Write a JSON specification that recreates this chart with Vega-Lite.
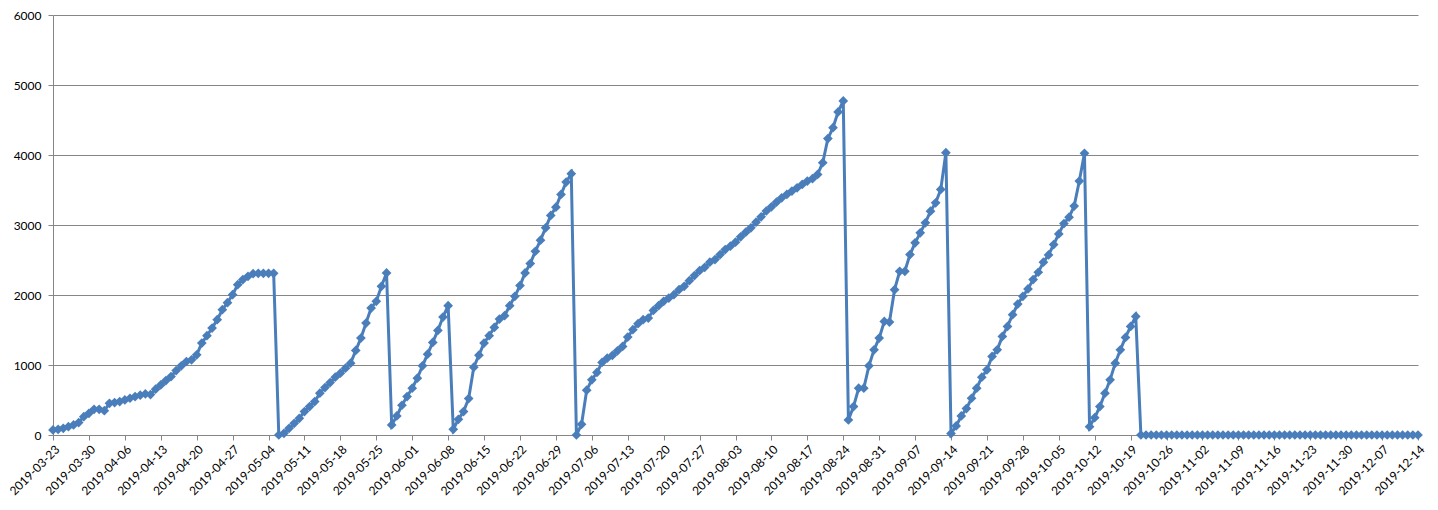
{
  "$schema": "https://vega.github.io/schema/vega-lite/v6.json",
  "autosize": "none",
  "width": 1365,
  "height": 420,
  "padding": {"left": 53, "top": 15, "right": 20, "bottom": 75},
  "background": "white",
  "config": {
    "view": {"stroke": null},
    "axis": {"labelFont": "Lato", "labelFontSize": 12, "labelColor": "#000000", "domainColor": "#868686", "tickColor": "#868686", "gridColor": "#868686", "titleFont": "Lato"}
  },
  "data": {"values": [
    {"d":"2019-03-23","v":72},{"d":"2019-03-24","v":81},{"d":"2019-03-25","v":95},{"d":"2019-03-26","v":119},{"d":"2019-03-27","v":143},{"d":"2019-03-28","v":177},{"d":"2019-03-29","v":262},{"d":"2019-03-30","v":310},{"d":"2019-03-31","v":367},
    {"d":"2019-04-01","v":367},{"d":"2019-04-02","v":348},{"d":"2019-04-03","v":453},{"d":"2019-04-04","v":463},{"d":"2019-04-05","v":477},{"d":"2019-04-06","v":501},{"d":"2019-04-07","v":525},{"d":"2019-04-08","v":549},{"d":"2019-04-09","v":568},{"d":"2019-04-10","v":587},{"d":"2019-04-11","v":578},{"d":"2019-04-12","v":654},{"d":"2019-04-13","v":716},{"d":"2019-04-14","v":778},{"d":"2019-04-15","v":835},{"d":"2019-04-16","v":921},{"d":"2019-04-17","v":988},{"d":"2019-04-18","v":1050},{"d":"2019-04-19","v":1074},{"d":"2019-04-20","v":1146},{"d":"2019-04-21","v":1313},{"d":"2019-04-22","v":1418},{"d":"2019-04-23","v":1527},{"d":"2019-04-24","v":1647},{"d":"2019-04-25","v":1790},{"d":"2019-04-26","v":1890},{"d":"2019-04-27","v":2005},{"d":"2019-04-28","v":2148},{"d":"2019-04-29","v":2220},{"d":"2019-04-30","v":2267},
    {"d":"2019-05-01","v":2305},{"d":"2019-05-02","v":2310},{"d":"2019-05-03","v":2310},{"d":"2019-05-04","v":2310},{"d":"2019-05-05","v":2310},{"d":"2019-05-06","v":0},{"d":"2019-05-07","v":24},{"d":"2019-05-08","v":95},{"d":"2019-05-09","v":167},{"d":"2019-05-10","v":239},{"d":"2019-05-11","v":334},{"d":"2019-05-12","v":406},{"d":"2019-05-13","v":477},{"d":"2019-05-14","v":597},{"d":"2019-05-15","v":678},{"d":"2019-05-16","v":749},{"d":"2019-05-17","v":826},{"d":"2019-05-18","v":883},{"d":"2019-05-19","v":955},{"d":"2019-05-20","v":1026},{"d":"2019-05-21","v":1208},{"d":"2019-05-22","v":1384},{"d":"2019-05-23","v":1599},{"d":"2019-05-24","v":1814},{"d":"2019-05-25","v":1909},{"d":"2019-05-26","v":2124},{"d":"2019-05-27","v":2315},{"d":"2019-05-28","v":143},{"d":"2019-05-29","v":272},{"d":"2019-05-30","v":425},{"d":"2019-05-31","v":549},
    {"d":"2019-06-01","v":668},{"d":"2019-06-02","v":811},{"d":"2019-06-03","v":988},{"d":"2019-06-04","v":1155},{"d":"2019-06-05","v":1322},{"d":"2019-06-06","v":1494},{"d":"2019-06-07","v":1685},{"d":"2019-06-08","v":1847},{"d":"2019-06-09","v":81},{"d":"2019-06-10","v":224},{"d":"2019-06-11","v":334},{"d":"2019-06-12","v":520},{"d":"2019-06-13","v":969},{"d":"2019-06-14","v":1141},{"d":"2019-06-15","v":1313},{"d":"2019-06-16","v":1418},{"d":"2019-06-17","v":1537},{"d":"2019-06-18","v":1656},{"d":"2019-06-19","v":1704},{"d":"2019-06-20","v":1847},{"d":"2019-06-21","v":1981},{"d":"2019-06-22","v":2134},{"d":"2019-06-23","v":2315},{"d":"2019-06-24","v":2449},{"d":"2019-06-25","v":2625},{"d":"2019-06-26","v":2783},{"d":"2019-06-27","v":2959},{"d":"2019-06-28","v":3136},{"d":"2019-06-29","v":3255},{"d":"2019-06-30","v":3437},
    {"d":"2019-07-01","v":3613},{"d":"2019-07-02","v":3733},{"d":"2019-07-03","v":0},{"d":"2019-07-04","v":153},{"d":"2019-07-05","v":640},{"d":"2019-07-06","v":788},{"d":"2019-07-07","v":893},{"d":"2019-07-08","v":1036},{"d":"2019-07-09","v":1098},{"d":"2019-07-10","v":1136},{"d":"2019-07-11","v":1203},{"d":"2019-07-12","v":1265},{"d":"2019-07-13","v":1399},{"d":"2019-07-14","v":1504},{"d":"2019-07-15","v":1590},{"d":"2019-07-16","v":1647},{"d":"2019-07-17","v":1671},{"d":"2019-07-18","v":1780},{"d":"2019-07-19","v":1847},{"d":"2019-07-20","v":1909},{"d":"2019-07-21","v":1957},{"d":"2019-07-22","v":2005},{"d":"2019-07-23","v":2076},{"d":"2019-07-24","v":2124},{"d":"2019-07-25","v":2205},{"d":"2019-07-26","v":2277},{"d":"2019-07-27","v":2348},{"d":"2019-07-28","v":2396},{"d":"2019-07-29","v":2468},{"d":"2019-07-30","v":2506},{"d":"2019-07-31","v":2578},
    {"d":"2019-08-01","v":2649},{"d":"2019-08-02","v":2697},{"d":"2019-08-03","v":2754},{"d":"2019-08-04","v":2831},{"d":"2019-08-05","v":2897},{"d":"2019-08-06","v":2959},{"d":"2019-08-07","v":3041},{"d":"2019-08-08","v":3117},{"d":"2019-08-09","v":3200},{"d":"2019-08-10","v":3260},{"d":"2019-08-11","v":3327},{"d":"2019-08-12","v":3389},{"d":"2019-08-13","v":3437},{"d":"2019-08-14","v":3484},{"d":"2019-08-15","v":3532},{"d":"2019-08-16","v":3580},{"d":"2019-08-17","v":3628},{"d":"2019-08-18","v":3661},{"d":"2019-08-19","v":3723},{"d":"2019-08-20","v":3890},{"d":"2019-08-21","v":4234},{"d":"2019-08-22","v":4391},{"d":"2019-08-23","v":4616},{"d":"2019-08-24","v":4773},{"d":"2019-08-25","v":215},{"d":"2019-08-26","v":406},{"d":"2019-08-27","v":668},{"d":"2019-08-28","v":668},{"d":"2019-08-29","v":988},{"d":"2019-08-30","v":1217},{"d":"2019-08-31","v":1384},
    {"d":"2019-09-01","v":1623},{"d":"2019-09-02","v":1613},{"d":"2019-09-03","v":2076},{"d":"2019-09-04","v":2339},{"d":"2019-09-05","v":2339},{"d":"2019-09-06","v":2578},{"d":"2019-09-07","v":2745},{"d":"2019-09-08","v":2888},{"d":"2019-09-09","v":3031},{"d":"2019-09-10","v":3198},{"d":"2019-09-11","v":3317},{"d":"2019-09-12","v":3508},{"d":"2019-09-13","v":4033},{"d":"2019-09-14","v":20},{"d":"2019-09-15","v":129},{"d":"2019-09-16","v":272},{"d":"2019-09-17","v":377},{"d":"2019-09-18","v":525},{"d":"2019-09-19","v":668},{"d":"2019-09-20","v":826},{"d":"2019-09-21","v":931},{"d":"2019-09-22","v":1122},{"d":"2019-09-23","v":1217},{"d":"2019-09-24","v":1408},{"d":"2019-09-25","v":1551},{"d":"2019-09-26","v":1718},{"d":"2019-09-27","v":1871},{"d":"2019-09-28","v":1981},{"d":"2019-09-29","v":2086},{"d":"2019-09-30","v":2220},
    {"d":"2019-10-01","v":2325},{"d":"2019-10-02","v":2468},{"d":"2019-10-03","v":2573},{"d":"2019-10-04","v":2721},{"d":"2019-10-05","v":2873},{"d":"2019-10-06","v":3021},{"d":"2019-10-07","v":3112},{"d":"2019-10-08","v":3270},{"d":"2019-10-09","v":3628},{"d":"2019-10-10","v":4024},{"d":"2019-10-11","v":119},{"d":"2019-10-12","v":248},{"d":"2019-10-13","v":406},{"d":"2019-10-14","v":597},{"d":"2019-10-15","v":788},{"d":"2019-10-16","v":1026},{"d":"2019-10-17","v":1217},{"d":"2019-10-18","v":1394},{"d":"2019-10-19","v":1551},{"d":"2019-10-20","v":1694},{"d":"2019-10-21","v":0},{"d":"2019-10-22","v":0},{"d":"2019-10-23","v":0},{"d":"2019-10-24","v":0},{"d":"2019-10-25","v":0},{"d":"2019-10-26","v":0},{"d":"2019-10-27","v":0},{"d":"2019-10-28","v":0},{"d":"2019-10-29","v":0},{"d":"2019-10-30","v":0},{"d":"2019-10-31","v":0},
    {"d":"2019-11-01","v":0},{"d":"2019-11-02","v":0},{"d":"2019-11-03","v":0},{"d":"2019-11-04","v":0},{"d":"2019-11-05","v":0},{"d":"2019-11-06","v":0},{"d":"2019-11-07","v":0},{"d":"2019-11-08","v":0},{"d":"2019-11-09","v":0},{"d":"2019-11-10","v":0},{"d":"2019-11-11","v":0},{"d":"2019-11-12","v":0},{"d":"2019-11-13","v":0},{"d":"2019-11-14","v":0},{"d":"2019-11-15","v":0},{"d":"2019-11-16","v":0},{"d":"2019-11-17","v":0},{"d":"2019-11-18","v":0},{"d":"2019-11-19","v":0},{"d":"2019-11-20","v":0},{"d":"2019-11-21","v":0},{"d":"2019-11-22","v":0},{"d":"2019-11-23","v":0},{"d":"2019-11-24","v":0},{"d":"2019-11-25","v":0},{"d":"2019-11-26","v":0},{"d":"2019-11-27","v":0},{"d":"2019-11-28","v":0},{"d":"2019-11-29","v":0},{"d":"2019-11-30","v":0},
    {"d":"2019-12-01","v":0},{"d":"2019-12-02","v":0},{"d":"2019-12-03","v":0},{"d":"2019-12-04","v":0},{"d":"2019-12-05","v":0},{"d":"2019-12-06","v":0},{"d":"2019-12-07","v":0},{"d":"2019-12-08","v":0},{"d":"2019-12-09","v":0},{"d":"2019-12-10","v":0},{"d":"2019-12-11","v":0},{"d":"2019-12-12","v":0},{"d":"2019-12-13","v":0},{"d":"2019-12-14","v":0}
  ]},
  "mark": {
    "type": "line",
    "color": "#4A7EBB",
    "strokeWidth": 3,
    "point": {"shape": "diamond", "size": 95, "filled": true, "color": "#4A7EBB", "opacity": 1}
  },
  "encoding": {
    "x": {
      "field": "d",
      "type": "temporal",
      "scale": {"type": "utc", "domain": [{"year": 2019, "month": 3, "date": 23, "utc": true}, {"year": 2019, "month": 12, "date": 14, "utc": true}]},
      "axis": {
        "title": null,
        "grid": false,
        "format": "%Y-%m-%d",
        "labelAngle": -45,
        "labelAlign": "right",
        "labelBaseline": "middle",
        "labelPadding": 7,
        "labelOffset": 4,
        "labelOverlap": false,
        "labelFlush": false,
        "tickSize": 5,
        "domainWidth": 1,
        "values": [
          {"year":2019,"month":3,"date":23,"utc":true},{"year":2019,"month":3,"date":30,"utc":true},{"year":2019,"month":4,"date":6,"utc":true},{"year":2019,"month":4,"date":13,"utc":true},{"year":2019,"month":4,"date":20,"utc":true},{"year":2019,"month":4,"date":27,"utc":true},{"year":2019,"month":5,"date":4,"utc":true},{"year":2019,"month":5,"date":11,"utc":true},{"year":2019,"month":5,"date":18,"utc":true},{"year":2019,"month":5,"date":25,"utc":true},{"year":2019,"month":6,"date":1,"utc":true},{"year":2019,"month":6,"date":8,"utc":true},{"year":2019,"month":6,"date":15,"utc":true},{"year":2019,"month":6,"date":22,"utc":true},{"year":2019,"month":6,"date":29,"utc":true},{"year":2019,"month":7,"date":6,"utc":true},{"year":2019,"month":7,"date":13,"utc":true},{"year":2019,"month":7,"date":20,"utc":true},{"year":2019,"month":7,"date":27,"utc":true},{"year":2019,"month":8,"date":3,"utc":true},{"year":2019,"month":8,"date":10,"utc":true},{"year":2019,"month":8,"date":17,"utc":true},{"year":2019,"month":8,"date":24,"utc":true},{"year":2019,"month":8,"date":31,"utc":true},{"year":2019,"month":9,"date":7,"utc":true},{"year":2019,"month":9,"date":14,"utc":true},{"year":2019,"month":9,"date":21,"utc":true},{"year":2019,"month":9,"date":28,"utc":true},{"year":2019,"month":10,"date":5,"utc":true},{"year":2019,"month":10,"date":12,"utc":true},{"year":2019,"month":10,"date":19,"utc":true},{"year":2019,"month":10,"date":26,"utc":true},{"year":2019,"month":11,"date":2,"utc":true},{"year":2019,"month":11,"date":9,"utc":true},{"year":2019,"month":11,"date":16,"utc":true},{"year":2019,"month":11,"date":23,"utc":true},{"year":2019,"month":11,"date":30,"utc":true},{"year":2019,"month":12,"date":7,"utc":true},{"year":2019,"month":12,"date":14,"utc":true}
        ]
      }
    },
    "y": {
      "field": "v",
      "type": "quantitative",
      "scale": {"domain": [0, 6000], "nice": false},
      "axis": {
        "title": null,
        "values": [0, 1000, 2000, 3000, 4000, 5000, 6000],
        "format": "d",
        "grid": true,
        "gridWidth": 1,
        "tickSize": 5,
        "labelPadding": 7,
        "domainWidth": 1
      }
    }
  }
}
